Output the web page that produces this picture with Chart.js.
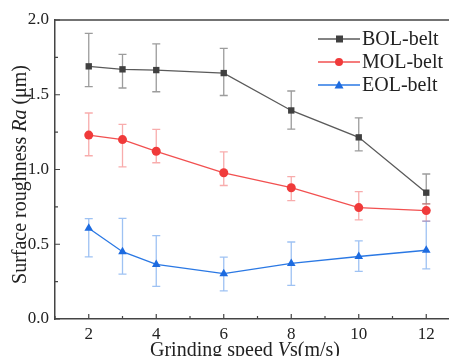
<!DOCTYPE html>
<html>
<head>
<meta charset="utf-8">
<script src="https://cdn.jsdelivr.net/npm/chart.js@4.4.1/dist/chart.umd.min.js"></script>
<style>
  body { margin: 0; overflow: hidden; background: #fff; }
</style>
</head>
<body>
<canvas id="roughChart" width="470" height="356"></canvas>
<script>
const speeds = [2, 3, 4, 6, 8, 10, 12];
const xTickValues = [2, 4, 6, 8, 10, 12];
const yTickValues = [0, 0.5, 1.0, 1.5, 2.0];

const bolMean = [1.69, 1.67, 1.665, 1.645, 1.395, 1.215, 0.845];
const bolHigh = [1.91, 1.77, 1.84, 1.81, 1.525, 1.345, 0.97];
const bolLow = [1.555, 1.545, 1.52, 1.495, 1.27, 1.125, 0.77];

const molMean = [1.23, 1.2, 1.122, 0.978, 0.878, 0.745, 0.725];
const molHigh = [1.378, 1.302, 1.268, 1.118, 0.952, 0.852, 0.77];
const molLow = [1.092, 1.017, 1.045, 0.893, 0.792, 0.663, 0.655];

const eolMean = [0.607, 0.45, 0.365, 0.303, 0.372, 0.418, 0.46];
const eolHigh = [0.672, 0.673, 0.558, 0.414, 0.515, 0.523, 0.655];
const eolLow = [0.416, 0.3, 0.218, 0.188, 0.225, 0.318, 0.335];

const serif = "'Liberation Serif', 'DejaVu Serif', serif";

function toPoints(values, high, low) {
  return speeds.map((x, i) => ({ x: x, y: values[i], hi: high[i], lo: low[i] }));
}

const datasets = [
  {
    label: "BOL-belt",
    data: toPoints(bolMean, bolHigh, bolLow),
    borderColor: "#5a5a5a",
    backgroundColor: "#404040",
    pointStyle: "rect",
    pointRadius: 4.5,
    errColor: "rgba(90, 90, 90, 0.6)",
  },
  {
    label: "MOL-belt",
    data: toPoints(molMean, molHigh, molLow),
    borderColor: "#f25050",
    backgroundColor: "#f03a3a",
    pointStyle: "circle",
    pointRadius: 4.5,
    errColor: "rgba(240, 70, 70, 0.45)",
  },
  {
    label: "EOL-belt",
    data: toPoints(eolMean, eolHigh, eolLow),
    borderColor: "#2a78e4",
    backgroundColor: "#1d6be0",
    pointStyle: "triangle",
    pointRadius: 5,
    errColor: "rgba(40, 120, 228, 0.45)",
  },
];

datasets.forEach((d) => {
  d.borderWidth = 1.3;
  d.pointBorderWidth = 0;
  d.pointBackgroundColor = d.backgroundColor;
  d.tension = 0;
});

const errorBars = {
  id: "errorBars",
  beforeDatasetsDraw(chart) {
    const c = chart.ctx;
    const xs = chart.scales.x;
    const ys = chart.scales.y;
    chart.data.datasets.forEach((d) => {
      c.save();
      c.strokeStyle = d.errColor;
      c.lineWidth = 1.3;
      d.data.forEach((p) => {
        const px = xs.getPixelForValue(p.x);
        const top = ys.getPixelForValue(p.hi);
        const bot = ys.getPixelForValue(p.lo);
        c.beginPath();
        c.moveTo(px, top);
        c.lineTo(px, bot);
        c.moveTo(px - 4, top);
        c.lineTo(px + 4, top);
        c.moveTo(px - 4, bot);
        c.lineTo(px + 4, bot);
        c.stroke();
      });
      c.restore();
    });
  },
};

const frameAndText = {
  id: "frameAndText",
  afterDraw(chart) {
    const c = chart.ctx;
    const a = chart.chartArea;
    const xs = chart.scales.x;
    const ys = chart.scales.y;
    c.save();
    c.strokeStyle = "#444";
    c.lineWidth = 1.5;
    c.beginPath();
    c.moveTo(a.left, a.top);
    c.lineTo(a.right, a.top);
    c.stroke();

    // inward ticks
    c.lineWidth = 1.2;
    c.beginPath();
    for (let v = 1; v <= 13; v++) {
      const px = xs.getPixelForValue(v);
      const len = v % 2 === 0 ? 5 : 3;
      c.moveTo(px, a.bottom);
      c.lineTo(px, a.bottom - len);
    }
    for (let v = 0; v <= 2.0001; v += 0.25) {
      const py = ys.getPixelForValue(v);
      const len = Math.round(v * 4) % 2 === 0 ? 5 : 3;
      c.moveTo(a.left, py);
      c.lineTo(a.left + len, py);
    }
    c.stroke();

    // legend
    const lx = 318;
    let ly = 39;
    c.textBaseline = "middle";
    c.font = "20px " + serif;
    chart.data.datasets.forEach((d) => {
      c.strokeStyle = d.borderColor;
      c.lineWidth = 1.3;
      c.beginPath();
      c.moveTo(lx, ly);
      c.lineTo(lx + 42, ly);
      c.stroke();
      c.fillStyle = d.backgroundColor;
      c.beginPath();
      if (d.pointStyle === "rect") {
        c.rect(lx + 18, ly - 3.5, 7, 7);
      } else if (d.pointStyle === "circle") {
        c.arc(lx + 21, ly, 4, 0, Math.PI * 2);
      } else {
        c.moveTo(lx + 21, ly - 4.5);
        c.lineTo(lx + 25.5, ly + 3.5);
        c.lineTo(lx + 16.5, ly + 3.5);
        c.closePath();
      }
      c.fill();
      c.fillStyle = "#222";
      c.fillText(d.label, lx + 44, ly + 1);
      ly += 23;
    });

    // axis titles with italic parts
    function drawParts(parts, x, y) {
      let total = 0;
      parts.forEach((p) => {
        c.font = (p.it ? "italic " : "") + "20px " + serif;
        total += c.measureText(p.t).width;
      });
      let cx = x - total / 2;
      parts.forEach((p) => {
        c.font = (p.it ? "italic " : "") + "20px " + serif;
        c.fillText(p.t, cx, y);
        cx += c.measureText(p.t).width;
      });
    }
    c.fillStyle = "#222";
    c.textBaseline = "alphabetic";
    drawParts(
      [{ t: "Grinding speed " }, { t: "V", it: true }, { t: "s(m/s)" }],
      245,
      356,
    );
    c.translate(26, (a.top + a.bottom) / 2 + 5);
    c.rotate(-Math.PI / 2);
    drawParts(
      [{ t: "Surface roughness " }, { t: "Ra", it: true }, { t: " (μm)" }],
      0,
      0,
    );
    c.restore();
  },
};

new Chart(document.getElementById("roughChart"), {
  type: "line",
  data: { datasets: datasets },
  plugins: [errorBars, frameAndText],
  options: {
    responsive: false,
    animation: false,
    layout: { padding: { top: 20, right: 10, left: 0, bottom: 0 } },
    plugins: {
      legend: { display: false },
      tooltip: { enabled: false },
    },
    scales: {
      x: {
        type: "linear",
        min: 1,
        max: 13,
        afterBuildTicks(scale) {
          scale.ticks = xTickValues.map((v) => ({ value: v }));
        },
        afterFit(scale) {
          scale.height = 37;
        },
        grid: { display: false, drawTicks: false },
        border: { display: true, color: "#444", width: 1.5 },
        ticks: {
          padding: 5,
          color: "#222",
          font: { family: serif, size: 17 },
        },
      },
      y: {
        min: 0,
        max: 2,
        afterBuildTicks(scale) {
          scale.ticks = yTickValues.map((v) => ({ value: v }));
        },
        afterFit(scale) {
          scale.width = 55;
        },
        grid: { display: false, drawTicks: false },
        border: { display: true, color: "#444", width: 1.5 },
        ticks: {
          padding: 6,
          color: "#222",
          font: { family: serif, size: 17 },
          callback: (v) => v.toFixed(1),
        },
      },
    },
  },
});
</script>
</body>
</html>
